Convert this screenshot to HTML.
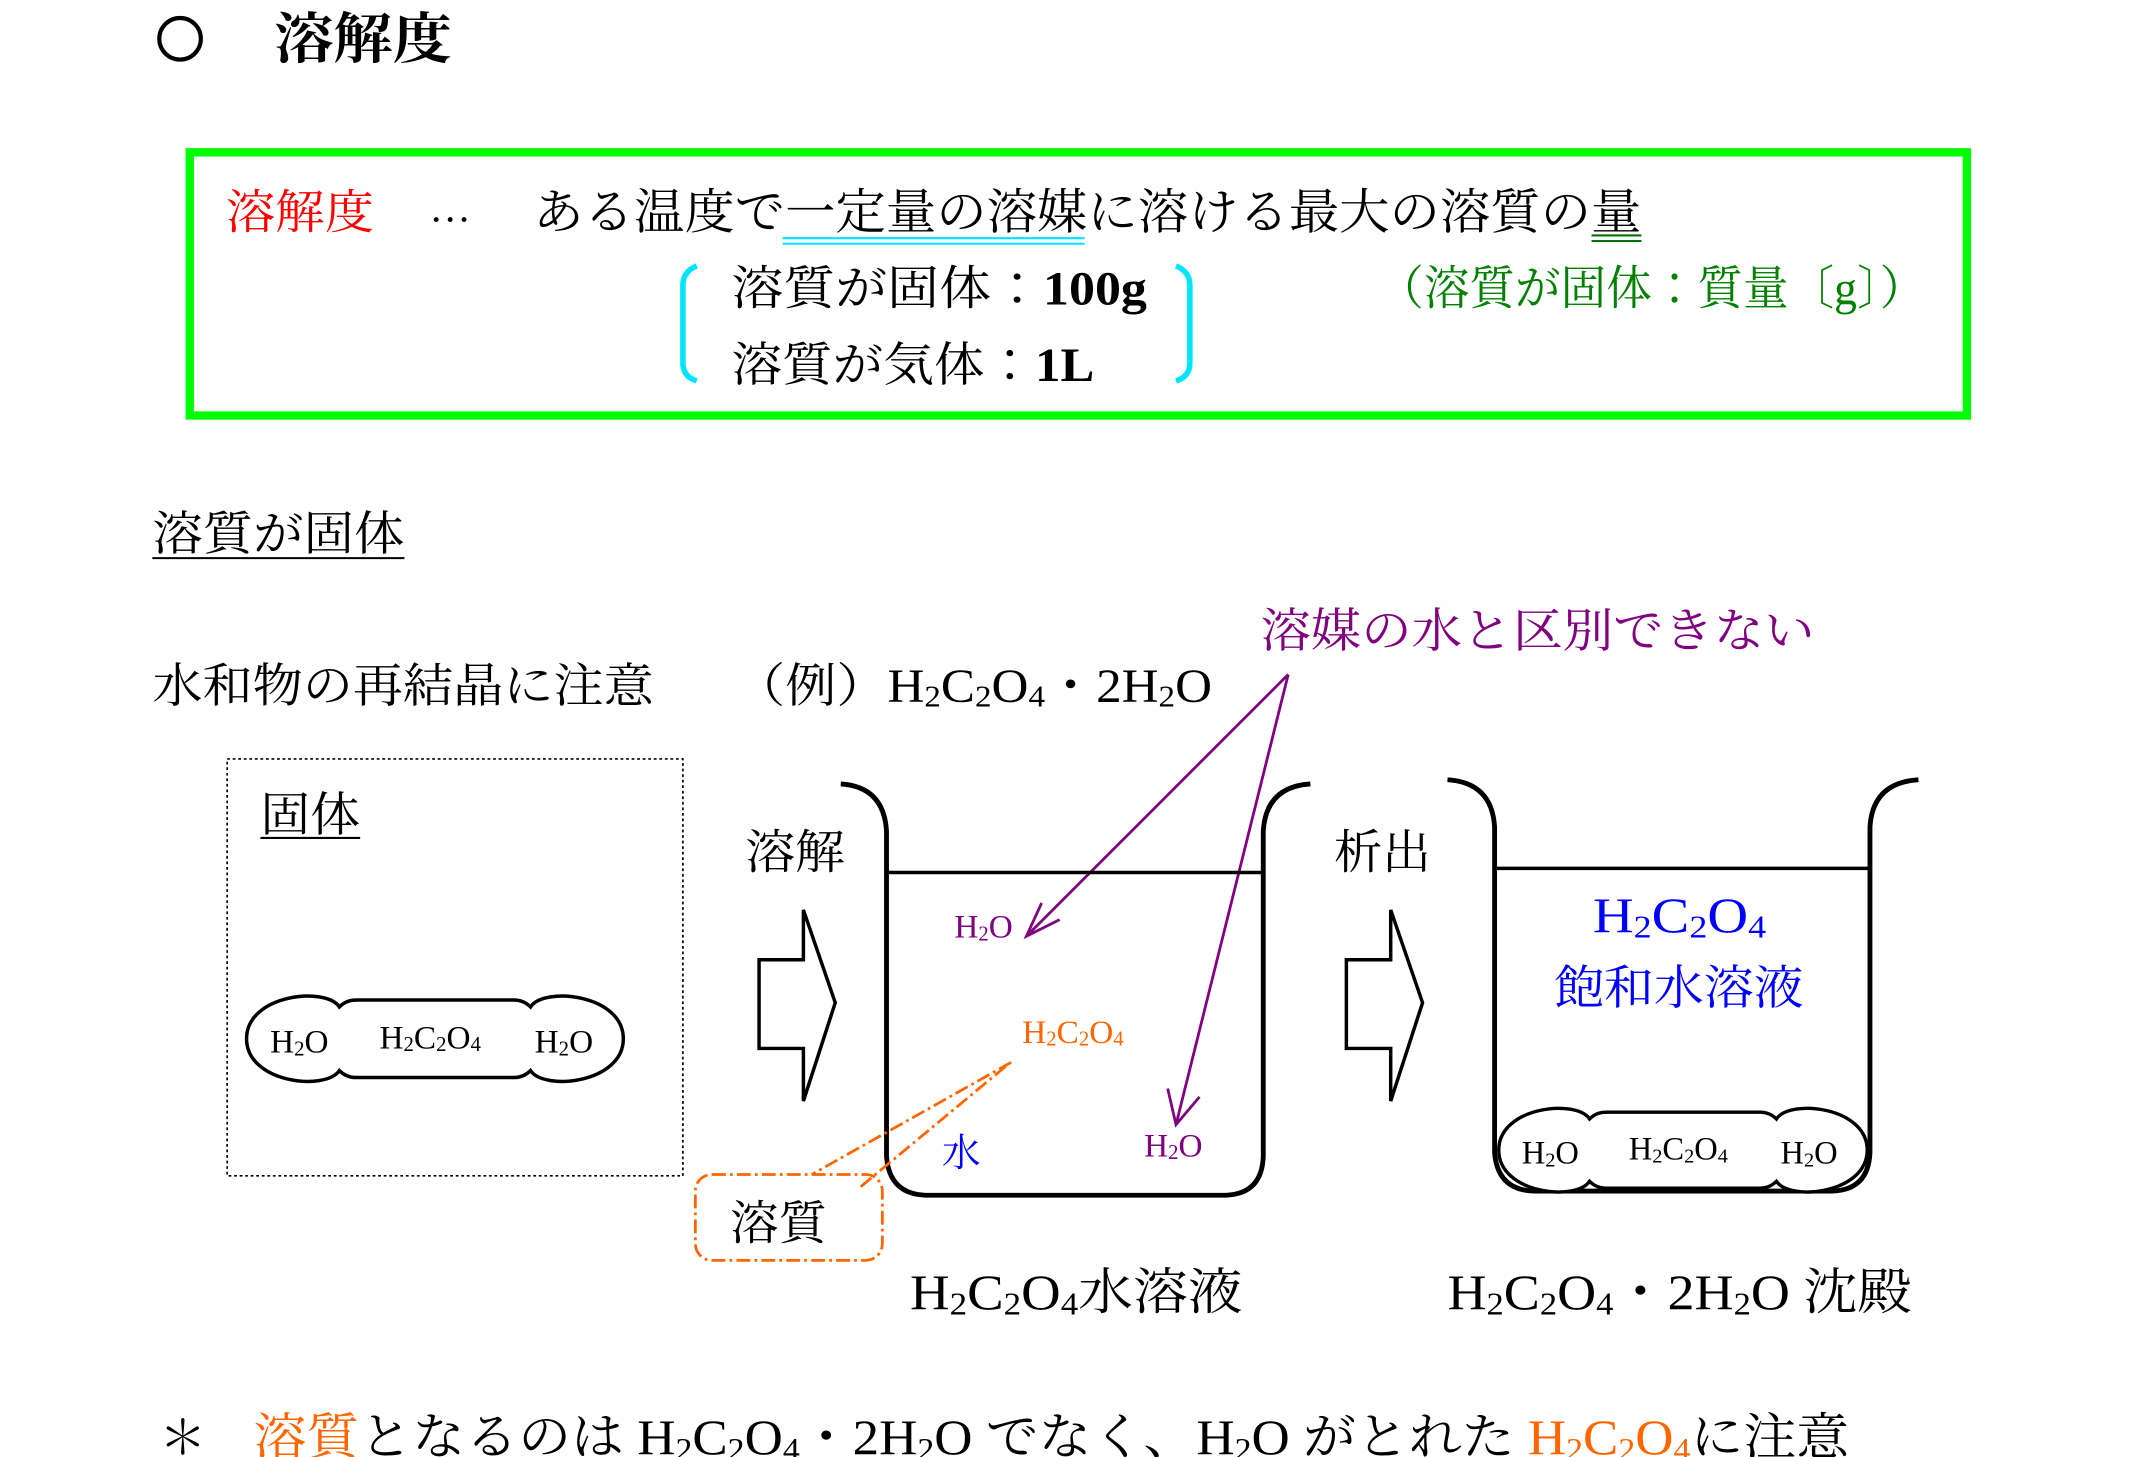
<!DOCTYPE html>
<html><head><meta charset="utf-8"><style>
html,body{margin:0;padding:0;background:#fff;}
svg{display:block;}
text{font-family:"Liberation Serif","Noto Serif CJK JP","Noto Serif CJK SC",serif;}
</style></head><body>
<svg width="2147" height="1457" viewBox="0 0 1550 1052" preserveAspectRatio="none" xmlns="http://www.w3.org/2000/svg">
<rect width="1550" height="1052" fill="#fff"/>
<!-- title -->
<circle cx="130" cy="28" r="15" fill="none" stroke="#000" stroke-width="3"/>
<text x="198" y="42" font-size="40" font-weight="bold" textLength="128" lengthAdjust="spacingAndGlyphs">溶解度</text>
<!-- green box -->
<rect x="137" y="110" width="1283" height="190" fill="none" stroke="#00ff00" stroke-width="6"/>
<text x="163" y="165" font-size="34" fill="#ff0000" textLength="107" lengthAdjust="spacingAndGlyphs">溶解度</text>
<text x="310" y="160" font-size="30">…</text>
<text x="385" y="165" font-size="35" textLength="800" lengthAdjust="spacingAndGlyphs">ある温度で一定量の溶媒に溶ける最大の溶質の量</text>
<line x1="565" y1="172" x2="783" y2="172" stroke="#00e5ff" stroke-width="1.5"/>
<line x1="565" y1="176" x2="783" y2="176" stroke="#00e5ff" stroke-width="1.5"/>
<line x1="1149" y1="170" x2="1185" y2="170" stroke="#007000" stroke-width="1.5"/>
<line x1="1149" y1="174" x2="1185" y2="174" stroke="#007000" stroke-width="1.5"/>
<path d="M503,192 Q493,196 493,206 L493,262 Q493,272 503,275" fill="none" stroke="#00e5ff" stroke-width="4"/>
<path d="M849,192 Q859,196 859,206 L859,262 Q859,272 849,275" fill="none" stroke="#00e5ff" stroke-width="4"/>
<text x="528" y="220" font-size="34" textLength="300" lengthAdjust="spacingAndGlyphs">溶質が固体：<tspan font-weight="bold">100g</tspan></text>
<text x="528" y="275" font-size="34" textLength="262" lengthAdjust="spacingAndGlyphs">溶質が気体：<tspan font-weight="bold">1L</tspan></text>
<text x="995" y="220" font-size="34" fill="#008000" textLength="395" lengthAdjust="spacingAndGlyphs">（溶質が固体：質量〔g〕）</text>
<!-- section -->
<text x="110" y="397" font-size="34" textLength="182" lengthAdjust="spacingAndGlyphs">溶質が固体</text>
<line x1="110" y1="403" x2="292" y2="403" stroke="#000" stroke-width="1.5"/>
<text x="110" y="507" font-size="34" textLength="362" lengthAdjust="spacingAndGlyphs">水和物の再結晶に注意</text>
<text x="530" y="507" font-size="34" textLength="345" lengthAdjust="spacingAndGlyphs">（例）H<tspan font-size="22" dy="3">2</tspan><tspan dy="-3">C</tspan><tspan font-size="22" dy="3">2</tspan><tspan dy="-3">O</tspan><tspan font-size="22" dy="3">4</tspan><tspan dy="-3">・2H</tspan><tspan font-size="22" dy="3">2</tspan><tspan dy="-3">O</tspan></text>
<text x="910" y="467" font-size="34" fill="#800080" textLength="400" lengthAdjust="spacingAndGlyphs">溶媒の水と区別できない</text>
<!-- purple arrows -->
<g stroke="#800080" stroke-width="2" fill="none">
<line x1="930" y1="487" x2="741" y2="676"/>
<path d="M752,652 L741,676 L765,664"/>
<line x1="930" y1="487" x2="849" y2="812"/>
<path d="M843,786 L849,812 L866,792"/>
</g>
<!-- dotted box -->
<rect x="164" y="548" width="329" height="301" fill="none" stroke="#000" stroke-width="1.2" stroke-dasharray="2,2"/>
<text x="188" y="600" font-size="34" textLength="72" lengthAdjust="spacingAndGlyphs">固体</text>
<line x1="188" y1="605" x2="260" y2="605" stroke="#000" stroke-width="1.5"/>
<!-- capsule 1 -->
<g id="cap">
<path d="M245,727 Q250,722 257,722 L371,722 Q378,722 383,727 C393,712 450,718 450,750 C450,782 393,788 383,773 Q378,778 371,778 L257,778 Q250,778 245,773 C235,788 178,782 178,750 C178,718 235,712 245,727 Z" fill="#fff" stroke="#000" stroke-width="2.5"/>
<g font-size="24">
<text x="195" y="760">H<tspan font-size="15" dy="2">2</tspan><tspan dy="-2">O</tspan></text>
<text x="274" y="757">H<tspan font-size="15" dy="2">2</tspan><tspan dy="-2">C</tspan><tspan font-size="15" dy="2">2</tspan><tspan dy="-2">O</tspan><tspan font-size="15" dy="2">4</tspan></text>
<text x="386" y="760">H<tspan font-size="15" dy="2">2</tspan><tspan dy="-2">O</tspan></text>
</g>
</g>
<!-- 溶解 arrow -->
<text x="538" y="627" font-size="34" textLength="72" lengthAdjust="spacingAndGlyphs">溶解</text>
<path d="M548,693 L580,693 L580,657 L603,724 L580,795 L580,757 L548,757 Z" fill="#fff" stroke="#000" stroke-width="2.5"/>
<!-- beaker 1 -->
<path d="M607,566 Q638,568 640,600 L640,835 Q642,862 668,863 L885,863 Q911,862 912,835 L912,600 Q914,568 946,566" fill="none" stroke="#000" stroke-width="3.5"/>
<line x1="640" y1="630" x2="912" y2="630" stroke="#000" stroke-width="2.5"/>
<text x="689" y="677" font-size="24" fill="#800080">H<tspan font-size="15" dy="2">2</tspan><tspan dy="-2">O</tspan></text>
<text x="738" y="753" font-size="24" fill="#ff6600">H<tspan font-size="15" dy="2">2</tspan><tspan dy="-2">C</tspan><tspan font-size="15" dy="2">2</tspan><tspan dy="-2">O</tspan><tspan font-size="15" dy="2">4</tspan></text>
<text x="680" y="842" font-size="28" fill="#0000ff">水</text>
<text x="826" y="835" font-size="24" fill="#800080">H<tspan font-size="15" dy="2">2</tspan><tspan dy="-2">O</tspan></text>
<!-- orange callout -->
<g stroke="#ff6600" stroke-width="2" fill="none" stroke-dasharray="10,3,2,3">
<line x1="730" y1="767" x2="586" y2="848"/>
<line x1="726" y1="770" x2="620" y2="858"/>
<rect x="502" y="848" width="135" height="62" rx="12"/>
</g>
<text x="527" y="895" font-size="34" textLength="70" lengthAdjust="spacingAndGlyphs">溶質</text>
<text x="657" y="945" font-size="36" textLength="240" lengthAdjust="spacingAndGlyphs">H<tspan font-size="23" dy="4">2</tspan><tspan dy="-4">C</tspan><tspan font-size="23" dy="4">2</tspan><tspan dy="-4">O</tspan><tspan font-size="23" dy="4">4</tspan><tspan dy="-4">水溶液</tspan></text>
<!-- 析出 arrow -->
<text x="963" y="627" font-size="34" textLength="70" lengthAdjust="spacingAndGlyphs">析出</text>
<path d="M972,693 L1004,693 L1004,657 L1027,724 L1004,795 L1004,757 L972,757 Z" fill="#fff" stroke="#000" stroke-width="2.5"/>
<!-- beaker 2 -->
<path d="M1045,563 Q1077,565 1079,597 L1079,832 Q1081,859 1107,860 L1323,860 Q1349,859 1350,832 L1350,597 Q1352,565 1385,563" fill="none" stroke="#000" stroke-width="3.5"/>
<line x1="1079" y1="627" x2="1350" y2="627" stroke="#000" stroke-width="2.5"/>
<text x="1150" y="673" font-size="36" fill="#0000ff" textLength="125" lengthAdjust="spacingAndGlyphs">H<tspan font-size="23" dy="4">2</tspan><tspan dy="-4">C</tspan><tspan font-size="23" dy="4">2</tspan><tspan dy="-4">O</tspan><tspan font-size="23" dy="4">4</tspan></text>
<text x="1122" y="725" font-size="34" fill="#0000ff" textLength="180" lengthAdjust="spacingAndGlyphs">飽和水溶液</text>
<g transform="translate(1082,803) scale(0.978,0.98) translate(-178,-722)">
<use href="#cap"/>
</g>
<text x="1045" y="945" font-size="36" textLength="335" lengthAdjust="spacingAndGlyphs">H<tspan font-size="23" dy="4">2</tspan><tspan dy="-4">C</tspan><tspan font-size="23" dy="4">2</tspan><tspan dy="-4">O</tspan><tspan font-size="23" dy="4">4</tspan><tspan dy="-4">・2H</tspan><tspan font-size="23" dy="4">2</tspan><tspan dy="-4">O 沈殿</tspan></text>
<!-- footer -->
<text x="115" y="1050" font-size="34">＊</text>
<text x="183" y="1050" font-size="36" textLength="1152" lengthAdjust="spacingAndGlyphs"><tspan fill="#ff6600">溶質</tspan>となるのは H<tspan font-size="23" dy="4">2</tspan><tspan dy="-4">C</tspan><tspan font-size="23" dy="4">2</tspan><tspan dy="-4">O</tspan><tspan font-size="23" dy="4">4</tspan><tspan dy="-4">・2H</tspan><tspan font-size="23" dy="4">2</tspan><tspan dy="-4">O でなく、H</tspan><tspan font-size="23" dy="4">2</tspan><tspan dy="-4">O がとれた </tspan><tspan fill="#ff6600">H</tspan><tspan fill="#ff6600" font-size="23" dy="4">2</tspan><tspan fill="#ff6600" dy="-4">C</tspan><tspan fill="#ff6600" font-size="23" dy="4">2</tspan><tspan fill="#ff6600" dy="-4">O</tspan><tspan fill="#ff6600" font-size="23" dy="4">4</tspan><tspan dy="-4">に注意</tspan></text>
</svg>
</body></html>
